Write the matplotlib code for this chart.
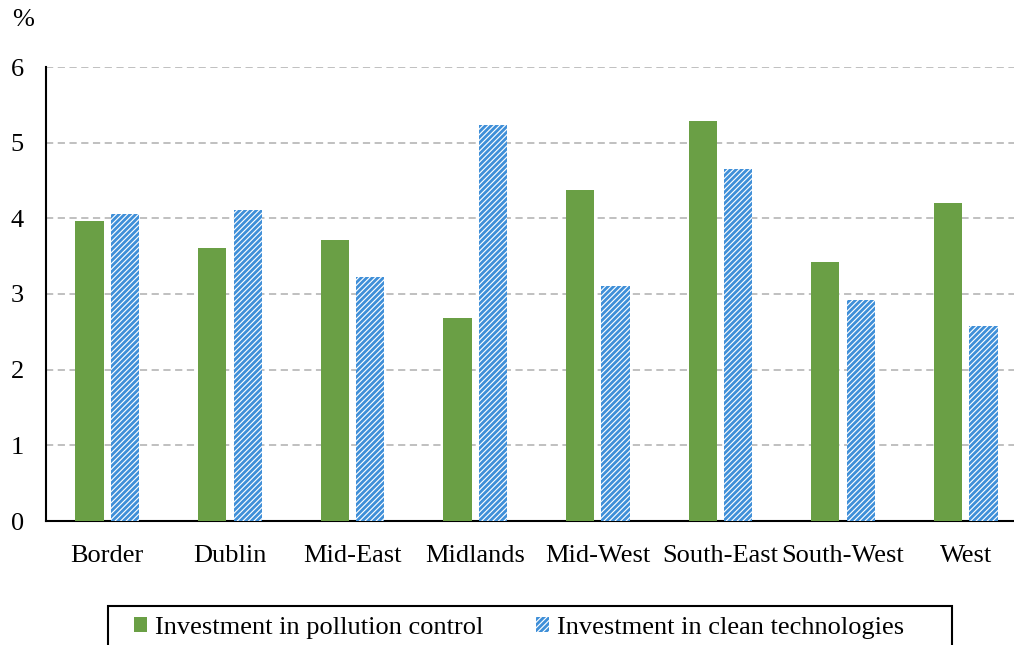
import numpy as np
import matplotlib.pyplot as plt
from matplotlib.patches import Rectangle

regions = ['Border', 'Dublin', 'Mid-East', 'Midlands', 'Mid-West',
           'South-East', 'South-West', 'West']
pollution = [3.96, 3.61, 3.71, 2.68, 4.37, 5.29, 3.42, 4.20]
clean = [4.06, 4.11, 3.22, 5.23, 3.11, 4.65, 2.92, 2.58]

plt.rcParams['font.family'] = ['Liberation Serif', 'DejaVu Serif']
plt.rcParams['hatch.linewidth'] = 2.0

fig = plt.figure(figsize=(10.14, 6.45), dpi=100)
ax = fig.add_axes([46 / 1014, 1 - 521 / 645, 981 / 1014, 454 / 645])

x = np.arange(len(regions))
w = 0.23
ax.bar(x - 0.145, pollution, w, color='#6A9F45', label='Investment in pollution control', zorder=3)
ax.bar(x + 0.145, clean, w, facecolor='white', edgecolor='#3F8FD8', hatch='//////',
       linewidth=0, label='Investment in clean technologies', zorder=3)

ax.set_xlim(-0.5, 7.5)
ax.set_ylim(0, 6)
ax.set_xticks(x)
ax.set_xticklabels(regions, fontsize=19)
ax.set_yticks(range(7))
ax.tick_params(axis='y', labelsize=19, length=0, pad=16)
ax.tick_params(axis='x', length=0, pad=17)
ax.grid(axis='y', color='#BBBBBB', linestyle=(0, (4, 2.5)), linewidth=1.3, zorder=0)
ax.spines['top'].set_visible(False)
ax.spines['right'].set_visible(False)
ax.spines['left'].set_linewidth(1.5)
ax.spines['bottom'].set_linewidth(1.5)

fig.text(12 / 1014, 1 - 20 / 645, '%', fontsize=19, va='center', ha='left')

# legend box (cut by the bottom edge like the original)
fig.patches.append(Rectangle((108 / 1014, 1 - 680 / 645), 844 / 1014, 74 / 645,
                             transform=fig.transFigure, fill=False,
                             edgecolor='black', linewidth=1.5))
leg = fig.legend(loc='center left', bbox_to_anchor=(134 / 1014, 1 - 628 / 645),
                 ncol=2, fontsize=19, frameon=False,
                 handlelength=0.5, handleheight=0.5, handletextpad=0.3, columnspacing=2.0,
                 borderpad=0, borderaxespad=0)

fig.savefig('out.png', dpi=100)
